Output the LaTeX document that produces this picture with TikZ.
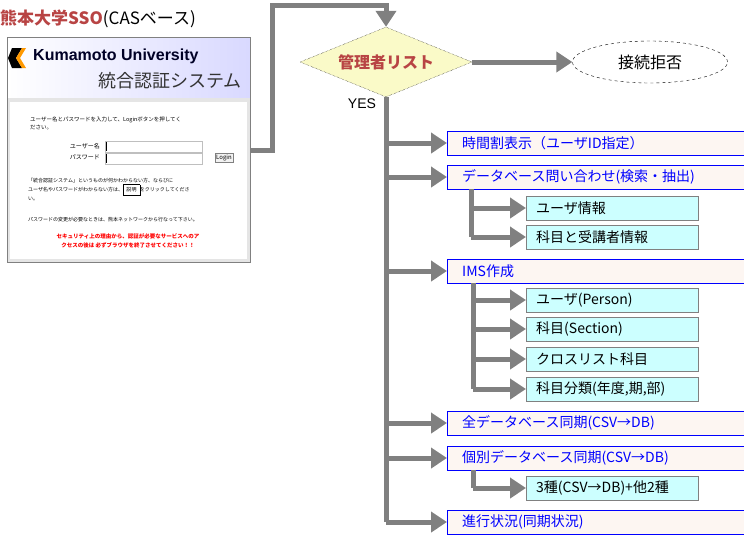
\documentclass[tikz,border=0pt]{standalone}
\usepackage{fontspec}
\setmainfont{Noto Sans CJK JP}
\newfontfamily\lsans{Liberation Sans}
\usetikzlibrary{arrows.meta,shapes.geometric}
\definecolor{arr}{HTML}{808080}
\definecolor{redt}{HTML}{B84444}
\definecolor{boxfill}{HTML}{FDF6F2}
\definecolor{subfill}{HTML}{CCFFFF}
\definecolor{diafill}{HTML}{FAFAC8}
\tikzset{
 flow/.style={draw=arr,line width=5pt,-{Triangle[length=16pt,width=20pt]}},
 line/.style={draw=arr,line width=5pt},
 mainbox/.style={fill=boxfill,minimum width=297pt,minimum height=24pt,anchor=west,inner sep=0pt,text=blue,font=\fontsize{14}{14}\selectfont,align=left,text width=287pt},
 subbox/.style={fill=subfill,draw=gray,minimum width=172pt,minimum height=24pt,anchor=west,inner sep=0pt,font=\fontsize{14}{14}\selectfont,text width=168pt,align=left},
}
\begin{document}
\begin{tikzpicture}[x=1pt,y=-1pt]
\useasboundingbox (0,0) rectangle (744,536);
% title
\node[anchor=west,inner sep=0pt,font=\fontsize{17}{17}\selectfont] (title) at (0,19) {\textcolor{redt}{\bfseries 熊本大学SSO}(CASベース)};
% login panel
\shade[left color=white,right color=blue!15] (7,37) rectangle (250,98);
\draw[gray] (7,37) rectangle (250,262);
\fill[gray!20] (7.5,98) rectangle (249.5,261.5);
\fill[white] (10,102) rectangle (247,259);
\fill[black] (12,48) -- (22,48) -- (16,58) -- (22,68) -- (12,68) -- (8,58) -- cycle;
\fill[orange!80!yellow] (22,48) -- (26,48) -- (20,58) -- (26,68) -- (22,68) -- (16,58) -- cycle;
\node[anchor=west,inner sep=0pt,font=\lsans\bfseries\fontsize{16}{16}\selectfont,text=black!85!blue] (ku) at (33,56) {Kumamoto University};
\node[anchor=east,inner sep=0pt,font=\fontsize{18}{18}\selectfont,text=black!80] (sys) at (242,81) {統合認証システム};
\node[anchor=west,inner sep=0pt,font=\fontsize{5.5}{8}\selectfont,align=left] (l1) at (30,123) {ユーザー名とパスワードを入力して、Loginボタンを押してく\\ださい。};
\node[anchor=east,inner sep=0pt,font=\fontsize{6}{6}\selectfont] (un) at (100,146) {ユーザー名};
\node[anchor=east,inner sep=0pt,font=\fontsize{6}{6}\selectfont] (pw) at (100,157) {パスワード};
\draw[gray!50,fill=white] (105,141) rectangle (202,152);
\draw[gray!50,fill=white] (105,153) rectangle (202,164);
\draw[black] (106,142) -- (106,151) (106,154) -- (106,163);
\node[draw=gray,fill=gray!10,inner sep=1.5pt,font=\fontsize{6}{6}\selectfont] (lg) at (224,158) {Login};
\node[anchor=west,inner sep=0pt,font=\fontsize{5}{9}\selectfont,align=left] (l2) at (28,190) {「統合認証システム」というものが何かわからない方、ならびに\\ユーザ名やパスワードがわからない方は、\fbox{説明}をクリックしてくださ\\い。};
\node[anchor=west,inner sep=0pt,font=\fontsize{5}{5}\selectfont] (l3) at (28,220) {パスワードの変更が必要なときは、熊本ネットワークから行なって下さい。};
\node[inner sep=0pt,font=\bfseries\fontsize{5.5}{9}\selectfont,text=red,align=center] (l4) at (128,241) {セキュリティ上の理由から、認証が必要なサービスへのア\\クセスの後は 必ずブラウザを終了させてください！！};
% diamond and ellipse
\node[diamond,aspect=2.43,fill=diafill,draw=black,densely dotted,minimum width=172pt,minimum height=70pt,inner sep=0pt,text=redt,font=\bfseries\fontsize{16}{16}\selectfont] (dia) at (386,62) {管理者リスト};
\node[ellipse,draw=black,dashed,minimum width=155pt,minimum height=42pt,font=\fontsize{16}{16}\selectfont] (rej) at (650,62) {接続拒否};
\node[font=\lsans\fontsize{14}{14}\selectfont,inner sep=0pt] (yes) at (362,104) {YES};
\coordinate (p1) at (250,150);
\draw[flow] (p1) -| (272,5) -| (dia.north);
\draw[flow] (dia.east) -- (rej.west);
% main boxes
\foreach \n/\y/\t in {b1/143/{時間割表示（ユーザID指定）},b2/177/{データベース問い合わせ(検索・抽出)},b3/271/{IMS作成},b4/423/{全データベース同期(CSV→DB)},b5/458/{個別データベース同期(CSV→DB)},b6/522/{進行状況(同期状況)}}{
  \node[mainbox] (\n) at (447,\y) {\hspace{10pt}\t};
  \draw[blue] (\n.north east) -- (\n.north west) -- (\n.south west) -- (\n.south east);
}
\draw[line] (dia.south) -- (386,522);
\foreach \n in {b1,b2,b3,b4,b5,b6}{
  \coordinate (c\n) at (386,0 |- \n.west);
  \draw[flow] (c\n) -- (\n.west);
}
% sub boxes
\foreach \n/\y/\t in {s1/208/{ユーザ情報},s2/237/{科目と受講者情報},s3/300/{ユーザ(Person)},s4/329/{科目(Section)},s5/359/{クロスリスト科目},s6/389/{科目分類(年度,期,部)},s7/488/{3種(CSV→DB)+他2種}}{
  \node[subbox] (\n) at (526,\y) {\hspace{8pt}\t};
}
\coordinate (t2) at (471,189);
\coordinate (t3) at (473,283);
\coordinate (t5) at (473,470);
\draw[line] (t2) -- (471,237);
\draw[line] (t3) -- (473,389);
\draw[line] (t5) -- (473,488);
\foreach \n/\x in {s1/471,s2/471,s3/473,s4/473,s5/473,s6/473,s7/473}{
  \coordinate (d\n) at (\x,0 |- \n.west);
  \draw[flow] (d\n) -- (\n.west);
}
\end{tikzpicture}
\end{document}
